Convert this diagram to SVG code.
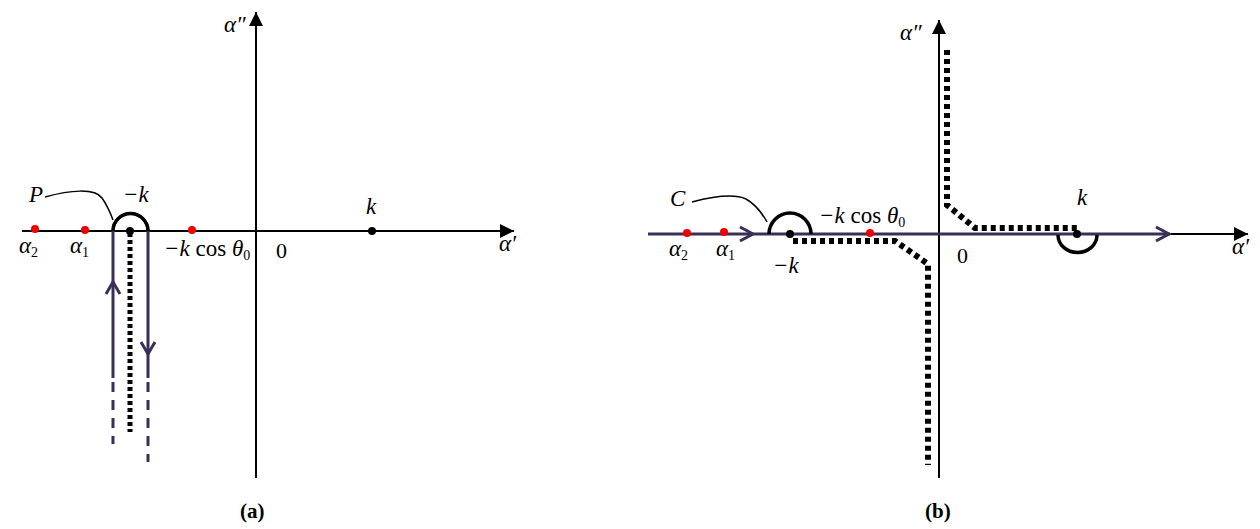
<svg xmlns="http://www.w3.org/2000/svg" width="1260" height="529" viewBox="0 0 1260 529">
<defs>
<marker id="ah" viewBox="0 0 10 10" refX="10" refY="5" markerWidth="14" markerHeight="14" markerUnits="userSpaceOnUse" orient="auto"><path d="M0,0 L10,5 L0,10 z" fill="#000"/></marker>
</defs>
<style>
.ax{stroke:#000;stroke-width:2;fill:none}
.pu{stroke:#3b2f57;stroke-width:3;fill:none}
.pud{stroke:#3b2f57;stroke-width:3;fill:none;stroke-dasharray:10 8}
.dot{stroke:#000;stroke-width:5;fill:none;stroke-dasharray:4 3}
.dotb{stroke:#000;stroke-width:6;fill:none;stroke-dasharray:5 4}
.arc{stroke:#000;stroke-width:3.5;fill:none}
.lead{stroke:#000;stroke-width:1.5;fill:none}
.chev{stroke:#3b2f57;stroke-width:3;fill:none;stroke-linejoin:miter}
.m{font-family:"Liberation Serif","Times New Roman",serif;font-style:italic;font-size:23px;fill:#000}
.n{font-family:"Liberation Serif","Times New Roman",serif;font-size:22px;fill:#000}
.sub{font-size:14px;font-style:normal}
.cap{font-family:"Liberation Serif","Times New Roman",serif;font-size:21px;font-weight:bold;fill:#000}
</style>
<g id="panel-a">
<g id="a-axes">
<line class="ax" x1="22" y1="231" x2="514" y2="231" marker-end="url(#ah)"/>
<line class="ax" x1="256" y1="478" x2="256" y2="12" marker-end="url(#ah)"/>
</g>
<g id="a-connectors">
<line class="dot" x1="130" y1="233" x2="130" y2="432"/>
<path class="pu" d="M113,378 L113,231 A17.5,17.5 0 0 1 148,231 L148,378"/>
<path class="arc" d="M113,231 A17.5,17.5 0 0 1 148,231" stroke="#1a1530"/>
<line class="pud" x1="113" y1="382" x2="113" y2="444"/>
<line class="pud" x1="148" y1="382" x2="148" y2="462"/>
<path class="chev" d="M106,294 L113,282 L120,294"/>
<path class="chev" d="M141,342 L148,354 L155,342"/>
<path class="lead" d="M45,197 C70,190 95,188 102,198 C107,205 110,212 113,220"/>
</g>
<g id="a-points">
<circle cx="35" cy="229" r="4" fill="#e00"/>
<circle cx="85" cy="230" r="4" fill="#e00"/>
<circle cx="192" cy="230" r="4" fill="#e00"/>
<circle cx="130" cy="231" r="4" fill="#000"/>
<circle cx="372" cy="231" r="4" fill="#000"/>
</g>
<g id="a-labels">
<text class="m" x="224" y="32">α″</text>
<text class="m" x="499" y="251">α′</text>
<text class="m" x="366" y="214">k</text>
<text class="n" x="276" y="258">0</text>
<text class="m" x="29" y="202">P</text>
<text class="m" x="123" y="202">−k</text>
<text class="m" x="19" y="253">α<tspan class="sub" dy="4">2</tspan></text>
<text class="m" x="70" y="253">α<tspan class="sub" dy="4">1</tspan></text>
<text class="m" x="164" y="256">−k <tspan font-style="normal">cos</tspan> θ<tspan class="sub" dy="4">0</tspan></text>
<text class="cap" x="240" y="518">(a)</text>
</g>
</g>
<g id="panel-b">
<g id="b-axes">
<line class="ax" x1="648" y1="234" x2="1248" y2="234" marker-end="url(#ah)"/>
<line class="ax" x1="939" y1="478" x2="939" y2="20" marker-end="url(#ah)"/>
</g>
<g id="b-connectors">
<path class="dotb" d="M947,50 L947,205 L975,228 L1078,228"/>
<path class="dotb" d="M793,241 L895,241 L928,264 L928,465"/>
<path class="pu" d="M648,234 L1170,234"/>
<path class="chev" d="M1156,227 L1169,234 L1156,241"/>
<path class="chev" d="M740,227 L753,234 L740,241"/>
<path class="arc" d="M769,234 A21,21 0 0 1 811,234"/>
<path class="arc" d="M1058,235 A19,17 0 0 0 1097,235"/>
<path class="lead" d="M692,202 C715,196 735,194 746,199 C755,204 762,213 767,222"/>
</g>
<g id="b-points">
<circle cx="687" cy="233" r="4" fill="#e00"/>
<circle cx="724" cy="232" r="4" fill="#e00"/>
<circle cx="870" cy="233" r="4" fill="#e00"/>
<circle cx="790" cy="234" r="4" fill="#000"/>
<circle cx="1077" cy="234" r="4" fill="#000"/>
</g>
<g id="b-labels">
<text class="m" x="900" y="40">α″</text>
<text class="m" x="1232" y="254">α′</text>
<text class="m" x="1077" y="205">k</text>
<text class="n" x="957" y="263">0</text>
<text class="m" x="670" y="206">C</text>
<text class="m" x="773" y="273">−k</text>
<text class="m" x="669" y="256">α<tspan class="sub" dy="4">2</tspan></text>
<text class="m" x="716" y="256">α<tspan class="sub" dy="4">1</tspan></text>
<text class="m" x="819" y="223">−k <tspan font-style="normal">cos</tspan> θ<tspan class="sub" dy="4">0</tspan></text>
<text class="cap" x="925" y="518">(b)</text>
</g>
</g>
</svg>
